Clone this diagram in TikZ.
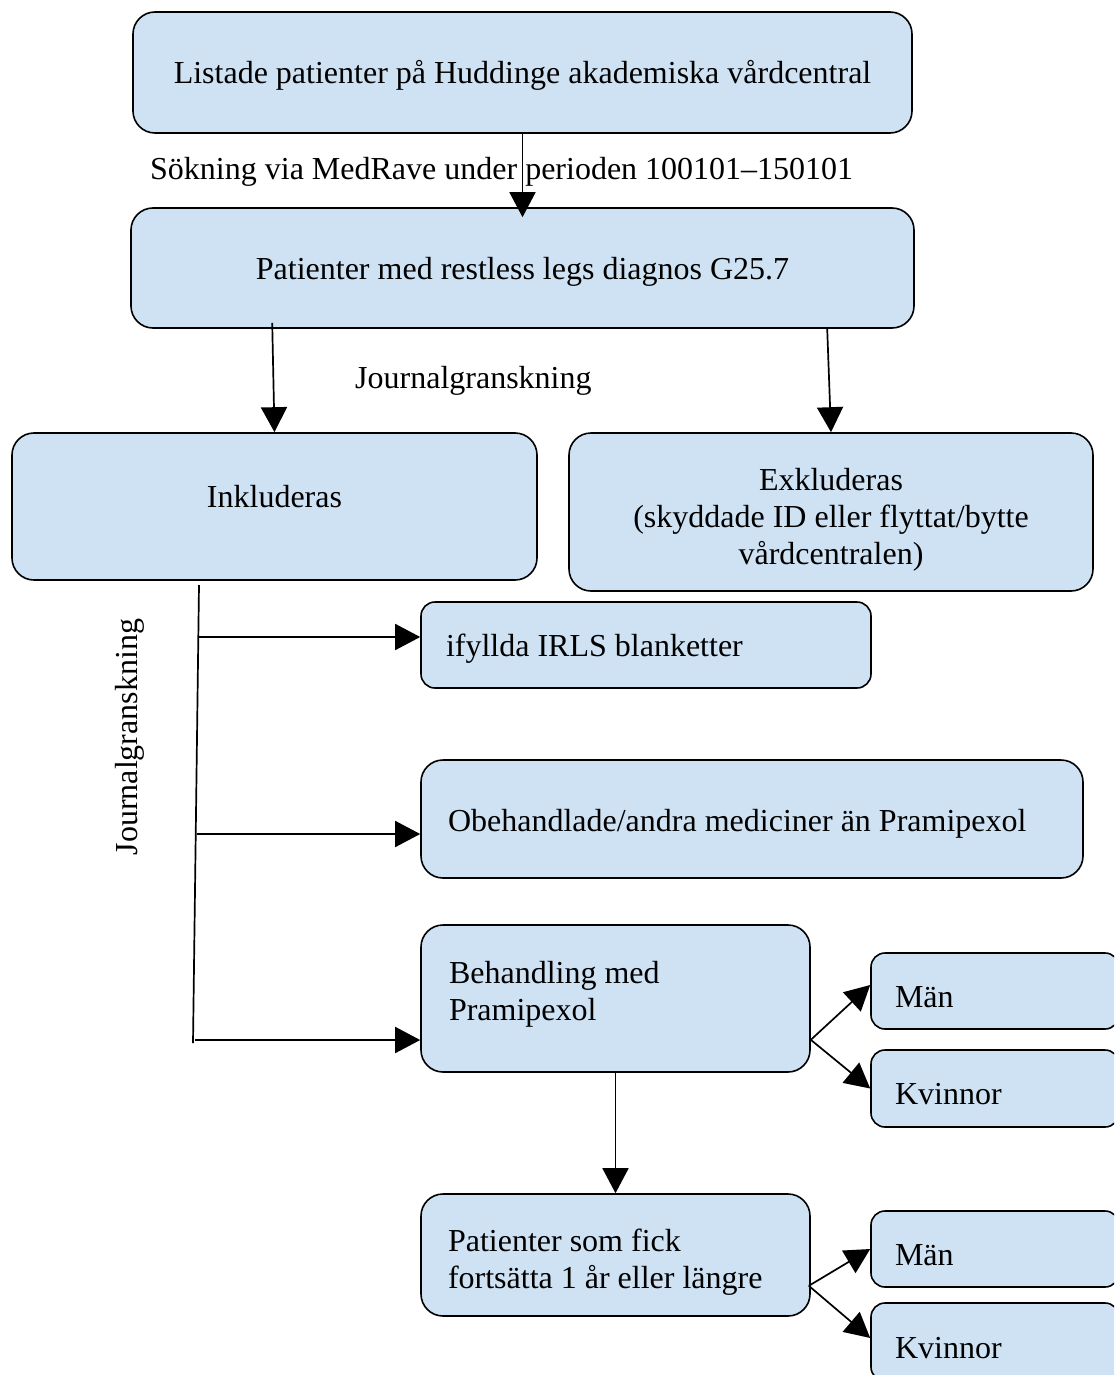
\documentclass[tikz,border=0pt]{standalone}
\usepackage{fontspec}
\setmainfont{Liberation Serif}
\usetikzlibrary{arrows.meta,calc}
\definecolor{boxblue}{RGB}{207,226,243}
\newcommand{\myfs}{\fontsize{32}{37}\selectfont}
\begin{document}
\begin{tikzpicture}[x=1pt,y=-1pt,
  box/.style={draw, fill=boxblue, line width=1.6pt, rounded corners=22pt, font=\myfs, inner sep=0pt},
  sbox/.style={box, rounded corners=14pt},
  sl/.style={text height=30pt, text depth=7pt},
  slx/.style={text height=39pt, text depth=7pt},
  conn/.style={line width=1.7pt, -{Triangle[length=25pt,width=26pt]}},
  plain/.style={line width=1.7pt},
  lbl/.style={font=\myfs, inner sep=0pt}]
\useasboundingbox (0,0) rectangle (1114,1375);
\clip (0,0) rectangle (1114,1375);

% boxes
\node[box, sl, minimum width=779pt, minimum height=121pt, align=flush center] (top) at (522.5,72.5)
  {Listade patienter på Huddinge akademiska vårdcentral};
\node[box, sl, minimum width=783pt, minimum height=120pt, align=flush center] (b2) at (522.5,268)
  {Patienter med restless legs diagnos G25.7};
\node[box, minimum width=525pt, minimum height=147pt, align=flush center, text depth=21pt] (inkl) at (274.5,506.5)
  {Inkluderas};
\node[box, minimum width=524pt, minimum height=158pt, text width=500pt, align=flush center,
      text height=38pt, text depth=81pt] (exkl) at (831,512)
  {Exkluderas\\(skyddade ID eller flyttat/bytte\\vårdcentralen)};
\node[sbox, sl, minimum height=86pt, inner xsep=25pt, text width=400pt, align=flush left] (ifyl) at (646,645)
  {ifyllda IRLS blanketter};
\node[box, text height=32pt, text depth=7pt, minimum height=118pt, inner xsep=27pt, text width=608pt, align=flush left] (obeh) at (752,819)
  {Obehandlade/andra mediciner än Pramipexol};
\node[box, minimum height=147pt, inner xsep=28pt, text width=333pt, align=flush left,
      text height=22pt, text depth=52pt] (beh) at (615.5,998.5)
  {Behandling med\\Pramipexol};
\node[sbox, slx, minimum height=76pt, inner xsep=24pt, text width=200pt, align=flush left] (man1) at (995,991)
  {Män};
\node[sbox, slx, minimum height=77pt, inner xsep=24pt, text width=200pt, align=flush left] (kv1) at (995,1088.5)
  {Kvinnor};
\node[box, minimum height=122pt, inner xsep=27pt, text width=335pt, align=flush left,
      text height=22pt, text depth=30pt] (pat) at (615.5,1255)
  {Patienter som fick\\fortsätta 1 år eller längre};
\node[sbox, slx, minimum height=76pt, inner xsep=24pt, text width=200pt, align=flush left] (man2) at (995,1249)
  {Män};
\node[sbox, slx, minimum height=78pt, inner xsep=24pt, text width=200pt, align=flush left] (kv2) at (995,1342)
  {Kvinnor};

% labels
\node[lbl, anchor=base west] (sok) at (150,179) {Sökning via MedRave under perioden 100101–150101};
\node[lbl, anchor=base west] (jg1) at (355,388) {Journalgranskning};
\node[lbl, rotate=90] (jg2) at (130,737) {Journalgranskning};

% connectors
\draw[conn] (top.south) -- ($(b2.north)+(0,10)$);
\draw[conn] ($(b2.south west)+(142,-6)$) -- (inkl.north);
\draw[conn] ($(b2.south west)+(697,0)$) -- (exkl.north);

\coordinate (v1) at (199,585);
\coordinate (v2) at (193,1043);
\coordinate (j1) at (199,637);
\coordinate (j2) at (197,834);
\coordinate (j3) at (195,1040);
\draw[plain] (v1) -- (v2);
\draw[conn] (j1) -- (j1 -| ifyl.west);
\draw[conn] (j2) -- (j2 -| obeh.west);
\draw[conn] (j3) -- (j3 -| beh.west);

\coordinate (bs) at ($(beh.south east)+(0,-33)$);
\draw[conn] (bs) -- ($(man1.west)+(0,-6)$);
\draw[conn] (bs) -- (kv1.west);
\draw[conn] (beh.south) -- (pat.north);

\coordinate (ps) at ($(pat.south east)+(-2,-31)$);
\draw[conn] (ps) -- (man2.west);
\draw[conn] (ps) -- ($(kv2.west)+(0,-4)$);
\end{tikzpicture}
\end{document}
